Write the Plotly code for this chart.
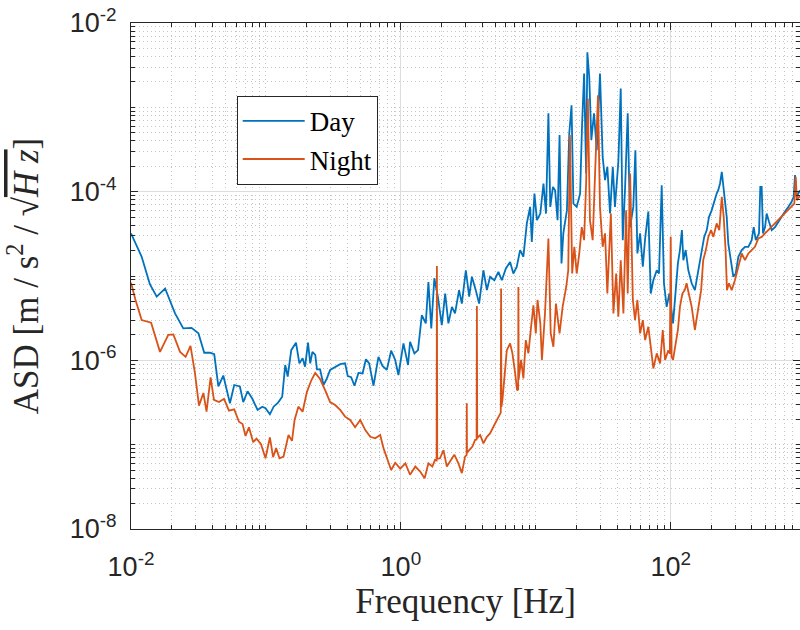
import plotly.graph_objects as go

# ---------------- data ----------------
day_freq = [0.0100, 0.0120, 0.0138, 0.0155, 0.0179, 0.0212, 0.0244, 0.0281, 0.0316, 0.0349,
            0.0385, 0.0414, 0.0444, 0.0483, 0.0541, 0.0582, 0.0641, 0.0679, 0.0731, 0.0793,
            0.0867, 0.0940, 0.0993, 0.107, 0.114, 0.123, 0.132, 0.139, 0.145, 0.154,
            0.167, 0.177, 0.187, 0.195, 0.205, 0.213, 0.221, 0.232, 0.239, 0.252,
            0.267, 0.283, 0.299, 0.326, 0.355, 0.386, 0.404, 0.428, 0.453, 0.485,
            0.520, 0.551, 0.582, 0.627, 0.682, 0.731, 0.787, 0.847, 0.908, 0.959,
            1.045, 1.13, 1.17, 1.26, 1.34, 1.43, 1.53, 1.60, 1.68, 1.77,
            1.88, 2.01, 2.13, 2.25, 2.39, 2.52, 2.70, 2.83, 3.03, 3.21,
            3.36, 3.59, 3.80, 4.09, 4.34, 4.58, 4.93, 5.28, 5.60, 6.00,
            6.45, 6.82, 7.23, 7.65, 8.09, 8.58, 9.08, 9.34, 9.77, 10.2,
            10.8, 11.4, 11.9, 12.4, 12.8, 13.4, 13.9, 14.5, 15.0, 15.5,
            16.0, 17.0, 17.7, 18.4, 19.0, 20.1, 21.3, 22.0, 22.8, 23.6,
            24.1, 24.9, 25.8, 27.0, 28.3, 29.9, 31.3, 32.6, 33.9, 35.5,
            37.2, 38.6, 40.9, 42.6, 44.1, 45.8, 48.0, 50.0, 52.8, 54.7,
            56.6, 59.3, 62.1, 64.6, 68.2, 71.1, 74.3, 78.8, 81.9, 85.7,
            89.1, 93.3, 97.7, 104, 108, 113, 117, 121, 124, 129,
            135, 143, 151, 160, 170, 177, 185, 192, 201, 210,
            219, 225, 232, 239, 250, 260, 267, 280, 291, 303,
            317, 336, 355, 376, 398, 412, 427, 451, 461, 472,
            483, 500, 514, 535, 560, 593, 627, 664, 703, 743,
            787, 815, 834, 858, 908]
day_asd = [3.2e-5, 1.69e-5, 8.0e-6, 5.7e-6, 7.1e-6, 3.6e-6, 2.39e-6, 2.43e-6, 2.09e-6, 1.23e-6,
           1.23e-6, 1.18e-6, 4.9e-7, 6.6e-7, 3.1e-7, 5.1e-7, 4.9e-7, 3.2e-7, 4.3e-7, 3.5e-7,
           2.58e-7, 2.82e-7, 2.7e-7, 2.29e-7, 2.82e-7, 3.15e-7, 3.7e-7, 8.8e-7, 6.4e-7, 1.32e-6,
           1.62e-6, 9.2e-7, 1.06e-6, 8.4e-7, 1.62e-6, 9.2e-7, 1.26e-6, 1.16e-6, 7.8e-7, 7.8e-7,
           5.1e-7, 6.1e-7, 7.7e-7, 8.4e-7, 9.0e-7, 9.2e-7, 6.5e-7, 6.3e-7, 5.0e-7, 7.1e-7,
           7.0e-7, 1.03e-6, 9.2e-7, 5.0e-7, 1.10e-6, 8.6e-7, 7.7e-7, 1.30e-6, 1.01e-6, 6.7e-7,
           1.59e-6, 8.8e-7, 1.66e-6, 1.21e-6, 1.32e-6, 3.44e-6, 2.74e-6, 8.5e-6, 2.39e-6, 9.4e-6,
           5.7e-6, 2.62e-6, 6.2e-6, 2.74e-6, 4.3e-6, 3.6e-6, 6.8e-6, 4.7e-6, 1.17e-5, 5.7e-6,
           9.8e-6, 6.8e-6, 4.7e-6, 1.17e-5, 6.8e-6, 9.8e-6, 8.9e-6, 1.12e-5, 8.9e-6, 1.23e-5,
           1.47e-5, 1.07e-5, 1.29e-5, 2.03e-5, 1.69e-5, 4.2e-5, 6.6e-5, 2.54e-5, 9.5e-5, 4.6e-5,
           5.5e-5, 1.25e-4, 5.5e-5, 8.5e-4, 6.6e-5, 1.14e-4, 1.04e-4, 4.6e-5, 4.7e-4, 1.41e-5,
           3.2e-5, 6.0e-5, 4.9e-4, 1.06e-3, 7.2e-5, 6.6e-5, 9.5e-5, 5.9e-4, 2.51e-3, 1.64e-4,
           4.5e-3, 2.29e-3, 4.1e-4, 8.5e-4, 3.1e-4, 2.51e-3, 2.58e-4, 1.37e-4, 1.97e-4, 5.5e-5,
           1.97e-4, 6.6e-5, 2.25e-4, 1.67e-3, 2.66e-5, 1.04e-4, 8.5e-4, 3.8e-5, 6.6e-5, 3.1e-4,
           1.85e-5, 3.2e-5, 1.29e-5, 2.79e-5, 5.8e-5, 6.2e-6, 8.9e-6, 1.17e-5, 1.07e-5, 1.19e-4,
           8.2e-6, 4.3e-6, 6.2e-6, 2.74e-6, 6.2e-6, 1.41e-5, 2.03e-5, 3.5e-5, 1.54e-5, 2.03e-5,
           1.17e-5, 8.2e-6, 6.8e-6, 1.17e-5, 2.03e-5, 2.91e-5, 3.5e-5, 5.0e-5, 6.0e-5, 7.9e-5,
           9.5e-5, 1.04e-4, 1.25e-4, 1.72e-4, 8.7e-5, 5.0e-5, 2.43e-5, 1.41e-5, 9.8e-6, 1.07e-5,
           1.69e-5, 2.03e-5, 2.22e-5, 2.22e-5, 2.66e-5, 3.8e-5, 2.66e-5, 3.2e-5, 1.14e-4, 1.14e-4,
           3.2e-5, 3.8e-5, 5.5e-5, 4.4e-5, 3.5e-5, 3.8e-5, 4.4e-5, 5.0e-5, 5.8e-5, 6.6e-5,
           7.6e-5, 8.7e-5, 1.57e-4, 8.7e-5, 1.04e-4]

night_freq = [0.0100, 0.0108, 0.0120, 0.0141, 0.0164, 0.0189, 0.0206, 0.0231, 0.0254, 0.0276,
              0.0298, 0.0319, 0.0344, 0.0363, 0.0389, 0.0412, 0.0449, 0.0489, 0.0532, 0.0582,
              0.0631, 0.0671, 0.0706, 0.0748, 0.0805, 0.0851, 0.0918, 0.0993, 0.107, 0.113,
              0.119, 0.126, 0.135, 0.147, 0.156, 0.163, 0.174, 0.187, 0.201, 0.217,
              0.232, 0.252, 0.275, 0.299, 0.326, 0.355, 0.386, 0.421, 0.458, 0.500,
              0.545, 0.593, 0.646, 0.703, 0.743, 0.802, 0.847, 0.908, 0.989, 1.08,
              1.17, 1.28, 1.39, 1.50, 1.60, 1.71, 1.79, 1.84, 1.85, 1.86,
              1.95, 2.07, 2.19, 2.32, 2.49, 2.67, 2.83, 2.99, 3.07, 3.08,
              3.09, 3.21, 3.39, 3.55, 3.64, 3.66, 3.68, 3.87, 4.09, 4.34,
              4.58, 4.85, 5.14, 5.35, 5.50, 5.53, 5.56, 5.66, 5.85, 6.10,
              6.45, 6.71, 7.03, 7.27, 7.40, 7.43, 7.47, 7.78, 8.09, 8.43,
              8.81, 9.23, 9.60, 10.0, 10.3, 10.8, 11.1, 11.7, 12.4, 12.9,
              13.5, 14.1, 15.0, 15.8, 16.8, 17.4, 17.9, 18.6, 19.3, 20.1,
              21.0, 21.9, 22.8, 23.6, 24.3, 25.2, 26.4, 27.5, 28.9, 29.9,
              31.3, 32.6, 33.9, 36.0, 37.6, 39.4, 40.9, 42.6, 44.6, 46.7,
              48.0, 50.0, 52.4, 54.4, 56.6, 59.3, 62.1, 64.6, 68.2, 71.1,
              74.3, 78.8, 83.4, 87.3, 90.8, 96.0, 98.5, 100, 101.5, 104,
              108, 113, 117, 122, 127, 131, 136, 143, 151, 160,
              168, 174, 182, 190, 199, 207, 219, 229, 239, 247,
              255, 261, 270, 283, 299, 317, 336, 355, 376, 398,
              421, 446, 472, 500, 528, 560, 593, 627, 664, 703,
              743, 787, 824, 843, 862, 908]
night_asd = [8.3e-6, 5.2e-6, 3.0e-6, 2.79e-6, 1.26e-6, 2.0e-6, 2.03e-6, 1.26e-6, 1.10e-6, 1.48e-6,
             7.0e-7, 2.9e-7, 4.1e-7, 2.46e-7, 6.3e-7, 3.4e-7, 3.2e-7, 3.5e-7, 2.53e-7, 2.62e-7,
             1.87e-7, 1.76e-7, 1.27e-7, 1.61e-7, 1.07e-7, 1.18e-7, 1.02e-7, 6.9e-8, 1.22e-7, 7.1e-8,
             9.1e-8, 6.9e-8, 7.2e-8, 1.30e-7, 1.11e-7, 1.96e-7, 2.82e-7, 2.46e-7, 4.2e-7, 5.8e-7,
             7.1e-7, 6.0e-7, 4.4e-7, 3.2e-7, 2.95e-7, 2.58e-7, 2.15e-7, 1.96e-7, 1.61e-7, 1.96e-7,
             1.49e-7, 1.24e-7, 1.19e-7, 1.30e-7, 9.1e-8, 6.6e-8, 5.0e-8, 6.1e-8, 5.2e-8, 6.0e-8,
             4.4e-8, 5.5e-8, 4.8e-8, 4.0e-8, 6.0e-8, 5.5e-8, 6.6e-8, 6.5e-8, 1.31e-5, 6.8e-8,
             6.9e-8, 8.6e-8, 5.5e-8, 6.3e-8, 7.6e-8, 6.0e-8, 4.6e-8, 7.2e-8, 7.5e-8, 3.1e-7,
             8.0e-8, 8.6e-8, 9.5e-8, 1.14e-7, 1.15e-7, 4.4e-6, 1.2e-7, 1.30e-7, 1.04e-7, 1.24e-7,
             1.36e-7, 1.63e-7, 1.96e-7, 2.25e-7, 2.4e-7, 7.1e-6, 2.8e-7, 3.4e-7, 5.8e-7, 1.32e-6,
             1.59e-6, 1.21e-6, 7.0e-7, 4.4e-7, 4.5e-7, 7.4e-6, 6.0e-7, 1.01e-6, 6.1e-7, 1.74e-6,
             1.21e-6, 2.5e-6, 4.5e-6, 2.09e-6, 5.2e-6, 2.74e-6, 1.01e-6, 3.6e-6, 2.79e-5, 2.09e-6,
             1.45e-6, 4.7e-6, 2.09e-6, 4.3e-6, 7.4e-6, 1.17e-5, 4.7e-4, 1.07e-5, 2.22e-5, 1.07e-5,
             1.85e-5, 3.8e-5, 2.66e-5, 1.25e-4, 1.27e-3, 4.6e-5, 2.66e-5, 1.64e-4, 1.39e-3, 6.6e-5,
             2.22e-5, 3.2e-5, 6.2e-6, 5.5e-5, 3.6e-6, 1.07e-5, 3.3e-6, 1.54e-5, 3.6e-6, 6.0e-5,
             6.2e-6, 1.64e-4, 5.2e-6, 3.0e-6, 5.2e-6, 2.09e-6, 3.0e-6, 1.74e-6, 2.5e-6, 1.45e-6,
             8.0e-7, 1.21e-6, 9.2e-7, 2.29e-6, 1.01e-6, 1.32e-6, 1.2e-6, 2.91e-5, 1.1e-6, 1.01e-6,
             1.45e-6, 2.29e-6, 4.3e-6, 6.2e-6, 6.8e-6, 8.2e-6, 6.2e-6, 4.3e-6, 2.29e-6, 4.3e-6,
             6.8e-6, 1.54e-5, 2.03e-5, 2.91e-5, 3.5e-5, 2.91e-5, 4.2e-5, 3.5e-5, 8.7e-5, 5.0e-5,
             2.03e-5, 6.8e-6, 8.2e-6, 6.8e-6, 8.9e-6, 1.29e-5, 1.85e-5, 1.54e-5, 1.85e-5, 2.03e-5,
             2.22e-5, 2.79e-5, 2.91e-5, 3.2e-5, 3.5e-5, 3.8e-5, 4.2e-5, 4.6e-5, 5.0e-5, 5.5e-5,
             6.0e-5, 6.6e-5, 7.2e-5, 1.50e-4, 7.9e-5, 9.0e-5]

series_names = ["Day", "Night"]
series_colors = ["#0072BD", "#D95319"]

x_major_vals = [0.01, 1, 100]
x_major_text = ["10<sup>-2</sup>", "10<sup>0</sup>", "10<sup>2</sup>"]
y_major_vals = [1e-8, 1e-6, 1e-4, 1e-2]
y_major_text = ["10<sup>-8</sup>", "10<sup>-6</sup>", "10<sup>-4</sup>", "10<sup>-2</sup>"]
x_decades = [-2, -1, 0, 1, 2]
y_decades = [-8, -7, -6, -5, -4, -3]

x_minor_vals = [m * 10.0 ** d for d in x_decades for m in range(1, 10)
                if not any(abs(m * 10.0 ** d - v) < 1e-9 * v for v in x_major_vals)]
y_minor_vals = [m * 10.0 ** d for d in y_decades for m in range(1, 10)
                if not any(abs(m * 10.0 ** d - v) < 1e-9 * v for v in y_major_vals)]

# ---------------- figure ----------------
AX = "#262626"
SERIF = "Liberation Serif"
fig = go.Figure()
for name, fx, fy, col in [(series_names[0], day_freq, day_asd, series_colors[0]),
                          (series_names[1], night_freq, night_asd, series_colors[1])]:
    fig.add_trace(go.Scatter(x=fx, y=fy, mode="lines", name=name,
                             line=dict(color=col, width=1.8)))

axis_common = dict(
    type="log", showline=True, linecolor=AX, linewidth=1, mirror="ticks",
    ticks="inside", ticklen=7, tickwidth=1, tickcolor=AX,
    showgrid=True, gridcolor="#DDDDDD", gridwidth=1, zeroline=False,
    tickfont=dict(family="Liberation Sans", size=27, color=AX),
    tickmode="array",
)
minor_common = dict(tickmode="array", ticks="inside", ticklen=4, tickcolor=AX,
                    showgrid=True, gridcolor="#C6C6C6", griddash="1px,3px", gridwidth=1)

fig.update_xaxes(
    **axis_common,
    range=[-2, 2.958],
    tickvals=x_major_vals, ticktext=x_major_text,
    ticklabelstandoff=14,
    minor=dict(tickvals=x_minor_vals, **minor_common),
    title=dict(text="Frequency [Hz]", standoff=4,
               font=dict(family=SERIF, size=35, color=AX)),
)
fig.update_yaxes(
    **axis_common,
    range=[-8, -2],
    tickvals=y_major_vals, ticktext=y_major_text,
    ticklabelstandoff=8,
    minor=dict(tickvals=y_minor_vals, **minor_common),
    title=dict(text='ASD [m / s<sup>2</sup> / √<span style="text-decoration:overline"><i>H z</i></span>]',
               standoff=20,
               font=dict(family=SERIF, size=35, color=AX)),
)

fig.update_layout(
    width=800, height=630,
    margin=dict(l=131, r=0, t=23, b=101, autoexpand=False),
    paper_bgcolor="white", plot_bgcolor="white",
    showlegend=True,
    legend=dict(x=0.158, y=0.856, xanchor="left", yanchor="top",
                bgcolor="white", bordercolor=AX, borderwidth=1,
                font=dict(family=SERIF, size=27, color="black"),
                itemwidth=62, tracegroupgap=0),
)

fig.write_html("out.html")
